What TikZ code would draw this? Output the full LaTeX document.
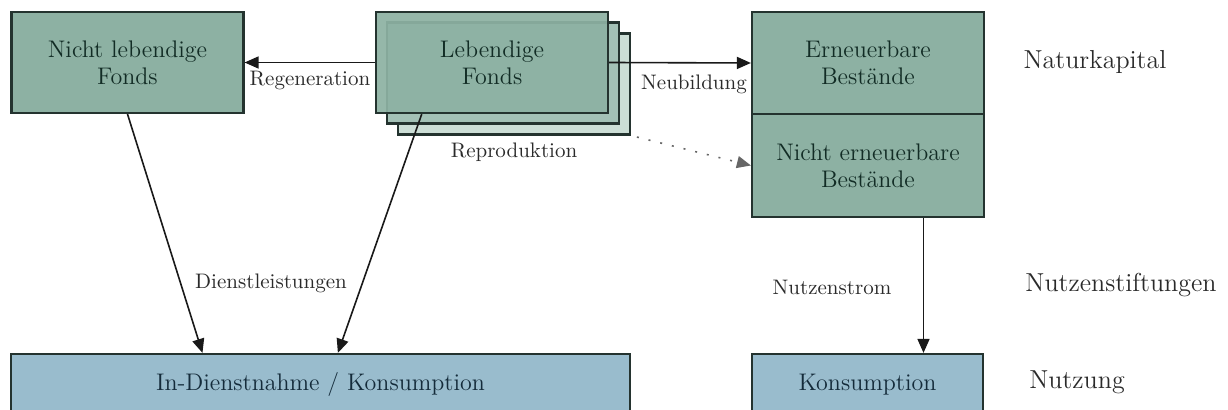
\documentclass[tikz,border=0pt]{standalone}
\usepackage{fontspec}
\usetikzlibrary{arrows.meta,calc}
\definecolor{gfill}{HTML}{8DB1A3}
\definecolor{gfillB}{HTML}{A3C1B6}
\definecolor{gfillC}{HTML}{CCDED6}
\definecolor{bfill}{HTML}{99BCCD}
\definecolor{bord}{HTML}{24332F}
\definecolor{gtext}{HTML}{122C25}
\definecolor{btext}{HTML}{142B3A}
\definecolor{ltext}{HTML}{2A2A2A}
\begin{document}
\begin{tikzpicture}[x=0.5pt,y=-0.5pt,
 box/.style={draw=bord,line width=1.1pt,inner sep=0pt,minimum width=116pt,minimum height=50.5pt,align=center,font=\fontsize{12}{13.5}\selectfont},
 gbox/.style={box,fill=gfill,text=gtext},
 bbox/.style={box,fill=bfill,text=btext,minimum height=31pt},
 lab/.style={text=ltext,font=\fontsize{10.5}{12}\selectfont,inner sep=0pt},
 big/.style={text=ltext,font=\fontsize{13}{15}\selectfont,inner sep=0pt},
 arr/.style={-{Triangle[length=7pt,width=6pt]},line width=0.8pt,draw=black!90},
 dotline/.style={arr,draw=black!60,dash pattern=on 1pt off 5pt,shorten <=3pt},
]
\useasboundingbox (0,0) rectangle (1228,410);
\node[gbox] (nl) at (127.5,62.5) {Nicht lebendige\\Fonds};
\node[box,fill=gfillC] (lf3) at (514,84) {};
\node[box,fill=gfillB] (lf2) at (503,73) {};
\node[gbox,fill opacity=0.93,text opacity=1] (lf) at (492,62.5) {Lebendige\\Fonds};
\node[gbox,minimum height=51pt] (eb) at (868,63) {Erneuerbare\\Bestände};
\node[gbox,minimum height=51.5pt] (ne) at (868,165.5) {Nicht erneuerbare\\Bestände};
\node[bbox,minimum width=309.5pt] (ind) at (320.5,385) {In-Dienstnahme / Konsumption};
\node[bbox,minimum width=115.5pt] (kons) at (867.5,385) {Konsumption};

\node[lab] (lreg) at (310,80) {Regeneration};
\node[lab] (lneu) at (694,84) {Neubildung};
\node[lab] (lrep) at (514,152) {Reproduktion};
\node[lab] (ldie) at (271,283) {Dienstleistungen};
\node[lab] (lnut) at (832,287) {Nutzenstrom};
\node[big] (lnk) at (1095,62) {Naturkapital};
\node[big] (lns) at (1121,285) {Nutzenstiftungen};
\node[big] (lnu) at (1077,382) {Nutzung};

\coordinate (nsrc) at ($(ne.south west)!0.737!(ne.south east)$);
\draw[arr] (lf.west) -- (nl.east);
\draw[arr] (lf.east) -- (eb.west);
\draw[dotline] (lf3.south east) -- (ne.west);
\draw[arr] (nl.south) -- ($(ind.north west)!0.31!(ind.north east)$);
\draw[arr] ($(lf.south west)!0.2!(lf.south east)$) -- ($(ind.north west)!0.528!(ind.north east)$);
\draw[arr] (nsrc) -- (nsrc |- kons.north);
\end{tikzpicture}
\end{document}
